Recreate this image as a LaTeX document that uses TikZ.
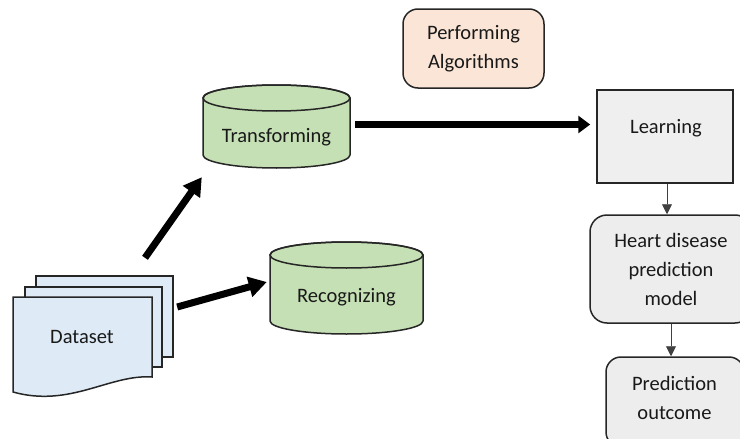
\documentclass[tikz,border=0pt]{standalone}
\usepackage{fontspec}
\setmainfont{Carlito}
\usetikzlibrary{arrows.meta}
\definecolor{docblue}{HTML}{DEEBF7}
\definecolor{cylgreen}{HTML}{C5E0B4}
\definecolor{peach}{HTML}{FBE5D6}
\definecolor{boxgray}{HTML}{EFEFEF}
\definecolor{boxgray2}{HTML}{EDEDED}
\begin{document}
\begin{tikzpicture}[x=1pt,y=-1pt,
  every node/.style={font=\fontsize{20.5}{29}\selectfont, text=black!90},
  outline/.style={draw=black!85, line width=1.5pt},
  bigarrow/.style={line width=7pt, -{Triangle[length=18pt,width=20pt]}},
  midarrow/.style={line width=7pt, -{Triangle[length=12pt,width=17pt]}},
  thinarrow/.style={draw=black!75, line width=0.9pt, -{Triangle[length=10pt,width=10pt]}},
  roundbox/.style={outline, rounded corners=17pt, align=center, inner sep=0pt}
]
\useasboundingbox (0,0) rectangle (740,439);
\clip (0,0) rectangle (740,439);

% ---- Dataset (multi document) ----
\node[inner sep=0pt, minimum width=137pt, minimum height=81pt] (dsback) at (104.5,316.5) {};
\node[inner sep=0pt, minimum width=139pt, minimum height=95pt] (ds) at (82.5,344.5) {};
\filldraw[outline, fill=docblue] (36,276) rectangle (173,357);
\filldraw[outline, fill=docblue] (25,287) rectangle (162,367);
\filldraw[outline, fill=docblue] (13,392) -- (13,297) -- (152,297) -- (152,377)
  .. controls (110,374) and (70,408) .. (13,392) -- cycle;
\node (dst) at (82,337) {Dataset};

% ---- Transforming cylinder ----
\node[inner sep=0pt, minimum width=147pt, minimum height=83pt] (tr) at (276.5,126.5) {};
\filldraw[outline, fill=cylgreen] (203,98) -- (203,155)
  arc[start angle=180, end angle=360, x radius=73.5pt, y radius=13pt] -- (350,98)
  arc[start angle=0, end angle=180, x radius=73.5pt, y radius=13pt] -- cycle;
\draw[outline] (276.5,98) ellipse [x radius=73.5pt, y radius=13pt];
\node (trt) at (276.5,137) {Transforming};

% ---- Recognizing cylinder ----
\node[inner sep=0pt, minimum width=153pt, minimum height=92pt] (rec) at (346.5,288) {};
\filldraw[outline, fill=cylgreen] (270,255) -- (270,321)
  arc[start angle=180, end angle=360, x radius=76.5pt, y radius=13pt] -- (423,255)
  arc[start angle=0, end angle=180, x radius=76.5pt, y radius=13pt] -- cycle;
\draw[outline] (346.5,255) ellipse [x radius=76.5pt, y radius=13pt];
\node (rect) at (346.5,297) {Recognizing};

% ---- Performing Algorithms ----
\node[roundbox, fill=peach, rounded corners=15pt, minimum width=141pt, minimum height=79pt] (pa) at (473.5,48.5) {Performing\\Algorithms};

% ---- Learning ----
\node[outline, fill=boxgray, inner sep=0pt, minimum width=136pt, minimum height=93pt] (lrn) at (665,136.5) {};
\node (lrnt) at (666,128) {Learning};

% ---- Heart disease prediction model ----
\node[roundbox, fill=boxgray2, minimum width=162pt, minimum height=108pt] (hd) at (671,269) {Heart disease\\prediction\\model};

% ---- Prediction outcome ----
\node[roundbox, fill=boxgray2, rounded corners=15pt, minimum width=138pt, minimum height=90pt] (po) at (675,402) {};
\node[align=center] (pot) at (674.5,397.5) {Prediction\\outcome};

% ---- Connectors ----
\draw[bigarrow] ([shift={(40.5,-18)}]dsback.north) -- ([shift={(-1,9)}]tr.south west);
\draw[bigarrow] ([shift={(4,-9.5)}]dsback.east) -- ([shift={(-3,-6)}]rec.west);
\draw[midarrow] ([shift={(5,-2)}]tr.east) -- ([shift={(-6,-12)}]lrn.west);
\draw[thinarrow] ([xshift=2pt]lrn.south) -- ([xshift=2pt]lrn.south |- hd.north);
\draw[thinarrow] (hd.south) -- (hd.south |- po.north);
\end{tikzpicture}
\end{document}
